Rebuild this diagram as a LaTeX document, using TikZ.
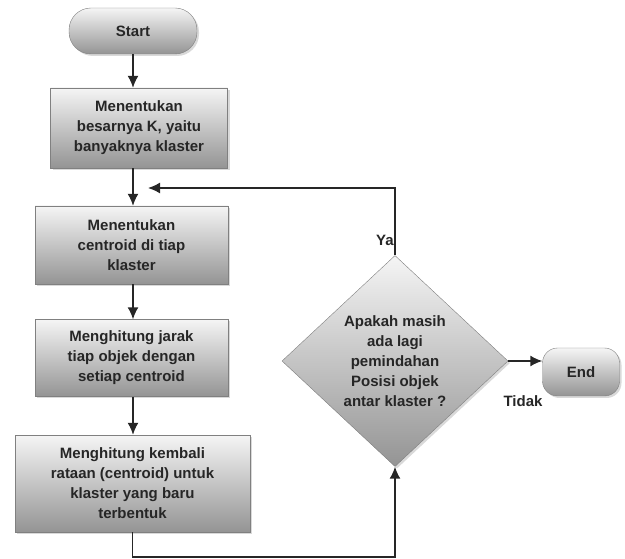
\documentclass[tikz,border=0pt]{standalone}
\usepackage{fontspec}
\setmainfont{Liberation Sans}
\usetikzlibrary{shapes.geometric,arrows.meta,shadows}

\begin{document}
\begin{tikzpicture}[x=1pt,y=-1pt]
  \tikzstyle{every node}=[font=\bfseries\fontsize{15}{20}\selectfont,text=black!85,inner sep=0pt]
  \tikzstyle{shade}=[draw=black!50,top color=black!4,bottom color=black!42,
    drop shadow={shadow xshift=2pt,shadow yshift=-2pt,opacity=0.3}]
  \tikzstyle{process}=[shade,rectangle,align=center]
  \tikzstyle{terminal}=[shade,rectangle,rounded corners=22pt]
  \tikzstyle{decision}=[shade,diamond,aspect=1,align=center]
  \tikzstyle{arrow}=[line width=1.5pt,draw=black!85,-{Latex[length=12pt,width=11pt]}]

  \useasboundingbox (0,0) rectangle (625,559);

  % Define the boxes
  \node[terminal,minimum width=128,minimum height=46] (start) at (133,31) {Start};
  \node[process,minimum width=177,minimum height=80] (k) at (139,128)
    {Menentukan\\besarnya K, yaitu\\banyaknya klaster};
  \node[process,minimum width=193,minimum height=78] (cent) at (131.5,245)
    {Menentukan\\centroid di tiap\\klaster};
  \node[process,minimum width=193,minimum height=77] (jarak) at (131.5,358)
    {Menghitung jarak\\tiap objek dengan\\setiap centroid};
  \node[process,minimum width=235,minimum height=97] (rata) at (132.5,483.5)
    {Menghitung kembali\\rataan (centroid) untuk\\klaster yang baru\\terbentuk};
  \node[decision,minimum width=226,minimum height=211] (dec) at (395,361)
    {Apakah masih\\ada lagi\\pemindahan\\Posisi objek\\antar klaster ?};
  \node[terminal,minimum width=77,minimum height=48,rounded corners=15pt] (end) at (581,372) {End};
  \coordinate (loop) at (148,188);

  % Draw the main flow
  \foreach \a/\b in {start/k, k/cent, cent/jarak, jarak/rata} {
    \draw[arrow] (start.south |- \a.south) -- (start.south |- \b.north);
  }

  % Draw the loops
  \draw[arrow] (rata.south) -- ++(0,25) -| (dec.south);
  \draw[arrow] (dec.north) |- (loop);
  \draw[arrow] (dec.east) -- (dec.east -| end.west);

  % Labels
  \node (ya) at (385,240) {Ya};
  \node (tidak) at (523,401) {Tidak};
\end{tikzpicture}
\end{document}
